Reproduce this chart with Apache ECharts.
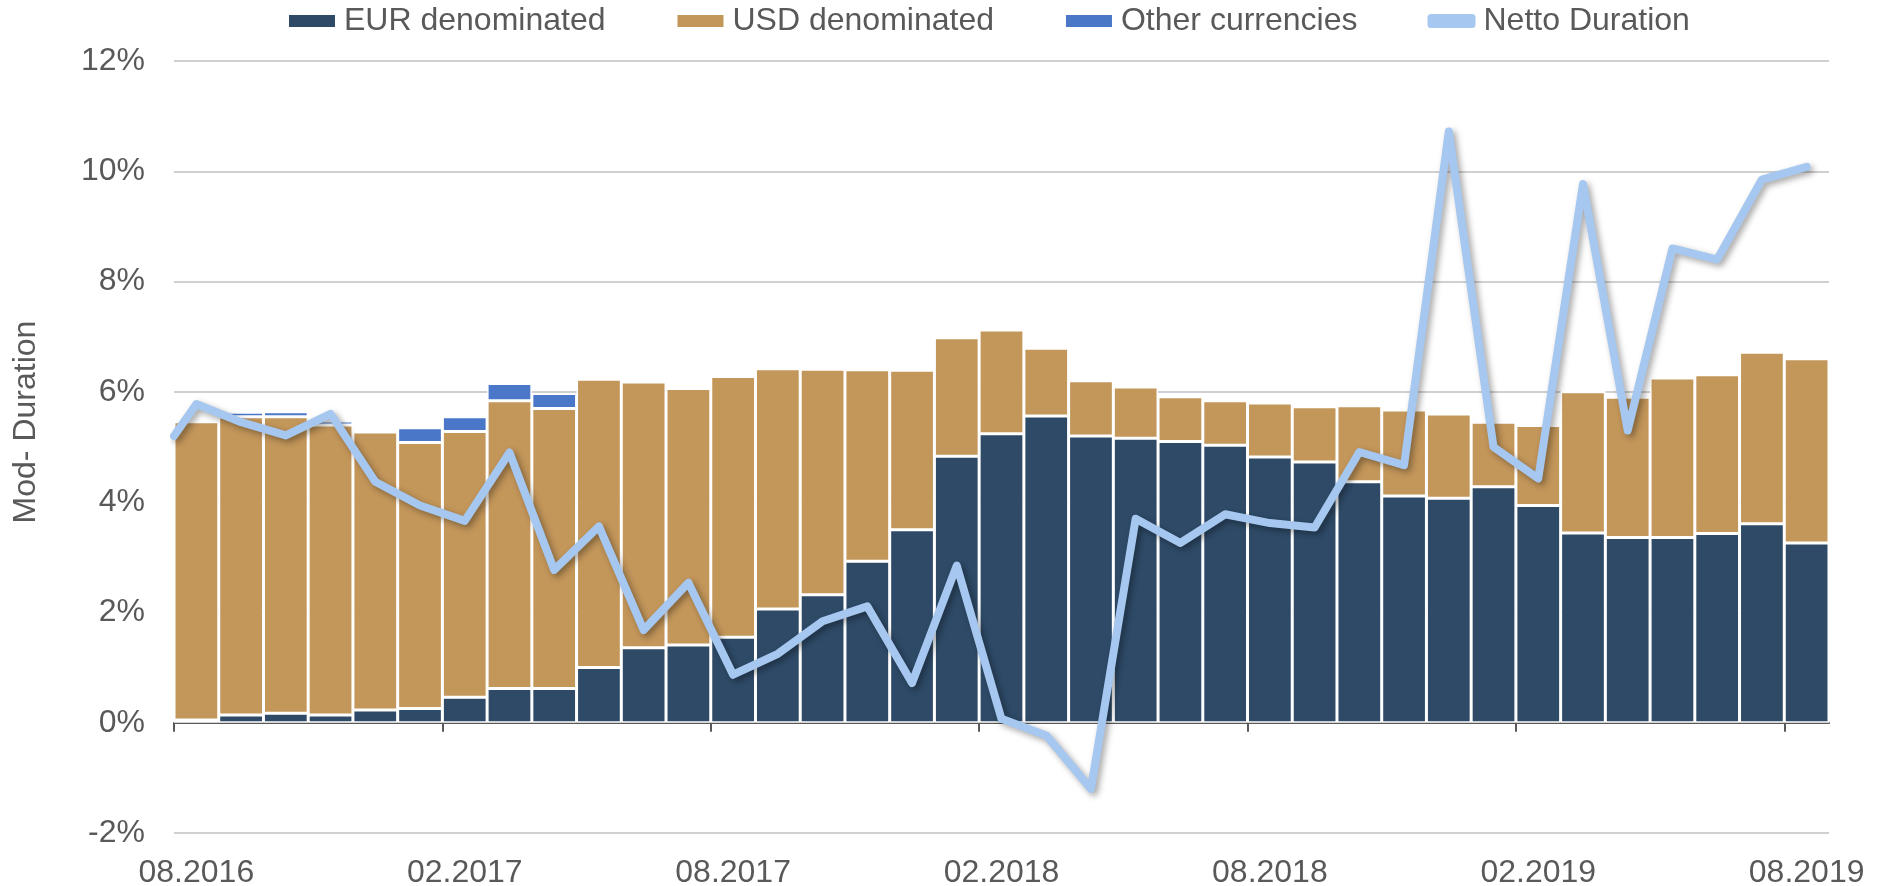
<!DOCTYPE html>
<html>
<head>
<meta charset="utf-8">
<title>Mod-Duration</title>
<script src="https://cdn.jsdelivr.net/npm/echarts@6/dist/echarts.min.js"></script>
<style>
  html, body { margin: 0; padding: 0; background: #fff; }
  #chart { width: 1886px; height: 886px; }
</style>
</head>
<body>
<div id="chart"></div>
<script>
// months, 08.2016 - 08.2019
const categories = [
  '08.2016', '09.2016', '10.2016', '11.2016', '12.2016', '01.2017',
  '02.2017', '03.2017', '04.2017', '05.2017', '06.2017', '07.2017',
  '08.2017', '09.2017', '10.2017', '11.2017', '12.2017', '01.2018',
  '02.2018', '03.2018', '04.2018', '05.2018', '06.2018', '07.2018',
  '08.2018', '09.2018', '10.2018', '11.2018', '12.2018', '01.2019',
  '02.2019', '03.2019', '04.2019', '05.2019', '06.2019', '07.2019',
  '08.2019'
];
// tick marks sit on the left edge of every 6th month
const tickPositions = [0, 6, 12, 18, 24, 30, 36];

// values in %
const eurDenominated = [
  0.05, 0.14, 0.17, 0.14, 0.23, 0.26, 0.46, 0.62, 0.62, 1.00,
  1.36, 1.41, 1.55, 2.06, 2.32, 2.93, 3.50, 4.83, 5.24, 5.56,
  5.20, 5.16, 5.10, 5.03, 4.82, 4.73, 4.37, 4.11, 4.07, 4.28,
  3.94, 3.44, 3.36, 3.36, 3.43, 3.61, 3.26
];
const usdDenominated = [
  5.41, 5.41, 5.38, 5.26, 5.04, 4.82, 4.82, 5.22, 5.08, 5.23,
  4.82, 4.65, 4.73, 4.36, 4.09, 3.47, 2.89, 2.15, 1.88, 1.23,
  1.00, 0.93, 0.81, 0.81, 0.98, 1.00, 1.38, 1.56, 1.53, 1.17,
  1.45, 2.56, 2.54, 2.89, 2.88, 3.11, 3.34
];
const otherCurrencies = [
  0, 0.08, 0.09, 0.07, 0, 0.27, 0.27, 0.31, 0.27, 0,
  0, 0, 0, 0, 0, 0, 0, 0, 0, 0,
  0, 0, 0, 0, 0, 0, 0, 0, 0, 0,
  0, 0, 0, 0, 0, 0, 0
];
// line starts at the left edge of the plot
const nettoOpening = 5.2;
const nettoDuration = [
  5.78, 5.45, 5.21, 5.60, 4.37, 3.94, 3.66, 4.90, 2.77, 3.56,
  1.68, 2.54, 0.87, 1.25, 1.84, 2.11, 0.72, 2.85, 0.07, -0.23,
  -1.20, 3.70, 3.26, 3.78, 3.62, 3.54, 4.91, 4.67, 10.72, 5.00,
  4.43, 9.77, 5.30, 8.60, 8.40, 9.85, 10.08
];

const textColor = '#595959';
const fontFamily = '"Liberation Sans", Arial, sans-serif';

const chart = echarts.init(document.getElementById('chart'));

const barStyle = color => ({
  color: color,
  borderColor: '#ffffff',
  borderWidth: 1.5
});

const nettoPoints = [[0, nettoOpening]].concat(nettoDuration.map((v, i) => [i + 0.5, v]));

const option = {
  animation: false,
  textStyle: { fontFamily: fontFamily },
  grid: { left: 174, right: 57, top: 61, bottom: 53, outerBoundsMode: 'none' },
  legend: {
    left: 282,
    top: 0,
    itemWidth: 48,
    itemHeight: 14,
    itemGap: 70,
    textStyle: { color: textColor, fontSize: 32, fontFamily: fontFamily, padding: [0, 0, 0, 3] },
    data: [
      { name: 'EUR denominated', icon: 'rect' },
      { name: 'USD denominated', icon: 'rect' },
      { name: 'Other currencies', icon: 'rect' },
      { name: 'Netto Duration', icon: 'roundRect' }
    ]
  },
  xAxis: [
    {
      // months: bars and labels (labels under the plot)
      type: 'category',
      data: categories,
      boundaryGap: true,
      position: 'bottom',
      axisLine: { show: false, onZero: false },
      axisTick: { show: false },
      axisLabel: { color: textColor, fontSize: 32, margin: 24, interval: 5 },
      splitLine: { show: false }
    },
    {
      // continuous month scale: zero line, ticks and the duration line
      type: 'value',
      position: 'bottom',
      min: 0,
      max: categories.length,
      axisLine: { show: true, onZero: true, lineStyle: { color: textColor, width: 2 } },
      axisTick: { show: true, customValues: tickPositions, length: 9, lineStyle: { color: textColor, width: 2 } },
      axisLabel: { show: false },
      splitLine: { show: false }
    }
  ],
  yAxis: {
    type: 'value',
    min: -2,
    max: 12,
    interval: 2,
    name: 'Mod- Duration',
    nameLocation: 'middle',
    nameRotate: 90,
    nameGap: 132,
    nameTextStyle: { color: textColor, fontSize: 32, padding: [0, 0, 0, 50] },
    axisLine: { show: false },
    axisTick: { show: false },
    axisLabel: { color: textColor, fontSize: 32, margin: 29, formatter: '{value}%' },
    splitLine: { lineStyle: { color: '#c0c0c0', width: 1.5 } }
  },
  series: [
    {
      name: 'EUR denominated',
      type: 'bar',
      stack: 'total',
      barCategoryGap: '0%',
      data: eurDenominated,
      itemStyle: barStyle('#2e4a67')
    },
    {
      name: 'USD denominated',
      type: 'bar',
      stack: 'total',
      barCategoryGap: '0%',
      data: usdDenominated,
      itemStyle: barStyle('#c3965a')
    },
    {
      name: 'Other currencies',
      type: 'bar',
      stack: 'total',
      barCategoryGap: '0%',
      data: otherCurrencies,
      itemStyle: barStyle('#4a77c8')
    },
    {
      name: 'Netto Duration',
      type: 'line',
      xAxisIndex: 1,
      data: nettoPoints,
      symbol: 'none',
      z: 5,
      itemStyle: { color: '#a6c7ef' },
      lineStyle: {
        color: '#a6c7ef',
        width: 8,
        cap: 'round',
        join: 'round',
        shadowColor: 'rgba(0, 0, 0, 0.35)',
        shadowBlur: 6,
        shadowOffsetX: 3,
        shadowOffsetY: 3
      }
    }
  ]
};

chart.setOption(option);
</script>
</body>
</html>
